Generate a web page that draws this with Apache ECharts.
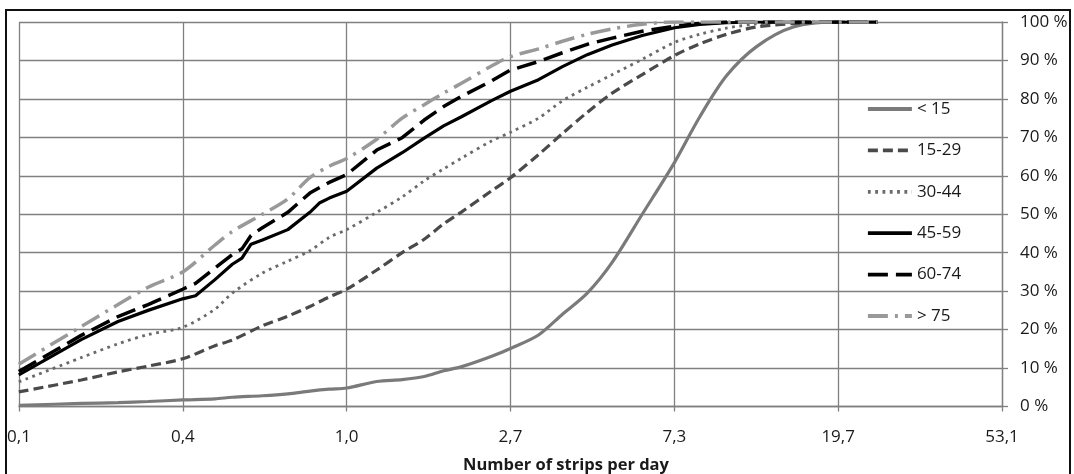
<!DOCTYPE html>
<html>
<head>
<meta charset="utf-8">
<script src="https://cdn.jsdelivr.net/npm/echarts@6/dist/echarts.min.js"></script>
<style>
html,body{margin:0;padding:0;background:#fff;}
#c{width:1074px;height:474px;}
</style>
</head>
<body>
<div id="c"></div>
<script>
// x values: number of strips per day
var xA = [0.137,0.2,0.25,0.3,0.37,0.45,0.5,0.6,0.7,0.8,0.9,1.0,1.2,1.4,1.6,1.8,2.0,2.4,2.7,3.2,3.7,4.3,5.0,6.0,7.3,8.5,10,12,15,19.7,25];
var xB = [0.137,0.2,0.25,0.3,0.37,0.40,0.45,0.5,0.53,0.56,0.6,0.7,0.8,0.85,0.9,1.0,1.2,1.4,1.6,1.8,2.0,2.4,2.7,3.2,3.7,4.3,5.0,6.0,7.3,8.5,10,12,15,19.7,25];
// cumulative percentages per age group
var yLt15  = [0.3,0.8,1.0,1.3,1.7,2.0,2.4,2.8,3.3,4.0,4.5,4.8,6.5,7.0,7.8,9.3,10.3,13.0,15.1,18.6,24,29.5,37.5,50,63.5,75.3,86,93.6,98.7,100,100];
var y15_29 = [3.8,6.9,9.0,10.5,12.4,15.8,17.3,21,23.5,26,28.5,30.5,35.5,40,43.5,47.5,50.5,56,59.5,65.5,71,76.5,81.5,86.3,91.3,94.3,96.8,98.7,99.6,100,100];
var y30_44 = [6.4,12.7,16.3,18.7,20.6,25.3,29.5,34.7,37.8,40.5,44,46,50.5,54.5,58.7,61.8,64.5,69,71.3,75,79.5,83,86.3,90.3,94.7,96.8,98.4,99.5,100,100,100];
var y45_59 = [8.2,17.4,22.1,25,28,28.8,33,37,38.6,42.2,43.3,46,50.5,53,54.2,56,62,66,69.8,73,75.3,79.5,82,85,88.4,91.5,94,96.5,98.5,99.4,99.8,100,100,100,100];
var y60_74 = [9.1,18.5,23.4,26.5,30.5,32,36,39.5,41,44.5,46.5,50.5,55.5,57,58.3,60.3,66.7,69.9,74.5,78,80.6,84.6,87.5,89.7,92,94.2,95.8,97.6,98.9,99.6,100,100,100,100,100];
var yGt75  = [11,20.8,26.5,31,35,42,45.5,50,54,59.5,62.5,64.5,69.5,75,78.5,81.5,84,88.5,91,93,95,96.8,98.2,99.4,100,100,100,100,100,100,100];
var seriesNames = ['< 15','15-29','30-44','45-59','60-74','> 75'];
var axisTitle = 'Number of strips per day';

function pairs(xs, ys){ return xs.map(function(x,i){ return [x, ys[i]]; }); }

var chart = echarts.init(document.getElementById('c'), null, {renderer:'canvas'});
var font = 'Open Sans';
var grid = '#808080';
var option = {
  backgroundColor:'#fff',
  animation:false,
  grid:{left:19, right:72, top:22, bottom:67.5, containLabel:false},
  legend:{
    orient:'vertical', left:861, top:94, itemWidth:44, itemHeight:14, itemGap:21.4,
    itemStyle:{opacity:0},
    lineStyle:{width:3.8},
    textStyle:{fontFamily:font, fontSize:17, color:'#1a1a1a', lineHeight:20},
    data:seriesNames
  },
  xAxis:{
    type:'log', logBase:2.7, min:Math.pow(2.7,-2), max:Math.pow(2.7,4),
    axisLine:{show:true, lineStyle:{color:grid, width:1.3}},
    axisTick:{show:true, length:5, lineStyle:{color:grid, width:1.3}},
    splitLine:{show:true, lineStyle:{color:grid, width:1.3}},
    minorTick:{show:false}, minorSplitLine:{show:false},
    axisLabel:{fontFamily:font, fontSize:17, color:'#1a1a1a', margin:22,
      formatter:function(v){ return v.toFixed(1).replace('.', ','); }}
  },
  yAxis:{
    type:'value', position:'right', min:0, max:100, interval:10,
    axisLine:{show:true, lineStyle:{color:grid, width:1.3}},
    axisTick:{show:true, length:6, lineStyle:{color:grid, width:1.3}},
    splitLine:{show:true, lineStyle:{color:grid, width:1.3}},
    axisLabel:{fontFamily:font, fontSize:17, color:'#1a1a1a', margin:18, formatter:'{value} %'}
  },
  series:[
    {name:seriesNames[0], type:'line', showSymbol:false, symbol:'none', smooth:0.3, data:pairs(xA,yLt15),
      lineStyle:{color:'#7a7a7a', width:3.2, type:'solid'}, itemStyle:{color:'#7a7a7a'}},
    {name:seriesNames[1], type:'line', showSymbol:false, symbol:'none', smooth:0.3, data:pairs(xA,y15_29),
      lineStyle:{color:'#4a4a4a', width:3.2, type:[10,5]}, itemStyle:{color:'#4a4a4a'}},
    {name:seriesNames[2], type:'line', showSymbol:false, symbol:'none', smooth:0.3, data:pairs(xA,y30_44),
      lineStyle:{color:'#6a6a6a', width:2.8, type:[2.8,4.5]}, itemStyle:{color:'#6a6a6a'}},
    {name:seriesNames[3], type:'line', showSymbol:false, symbol:'none', data:pairs(xB,y45_59),
      lineStyle:{color:'#000', width:3.2, type:'solid'}, itemStyle:{color:'#000'}},
    {name:seriesNames[4], type:'line', showSymbol:false, symbol:'none', data:pairs(xB,y60_74),
      lineStyle:{color:'#000', width:3.5, type:[20,8]}, itemStyle:{color:'#000'}},
    {name:seriesNames[5], type:'line', showSymbol:false, symbol:'none', smooth:0.3, data:pairs(xA,yGt75),
      lineStyle:{color:'#999', width:3.5, type:[20,7,3,7]}, itemStyle:{color:'#999'}}
  ],
  graphic:[
    {type:'rect', shape:{x:6, y:10, width:1064, height:480}, style:{fill:null, stroke:'#111', lineWidth:2}, silent:true, z:100},
    {type:'text', x:566, y:465, style:{text:axisTitle, fontFamily:font, fontWeight:'bold', fontSize:16.5, fill:'#1a1a1a', align:'center', verticalAlign:'middle'}}
  ]
};
chart.setOption(option);
</script>
</body>
</html>
